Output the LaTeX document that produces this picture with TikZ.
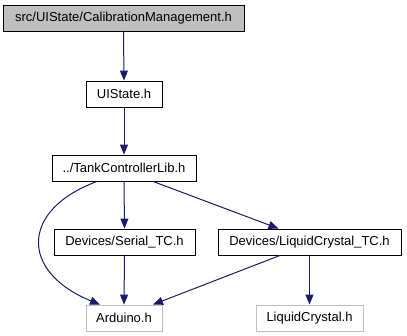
\documentclass[tikz,border=0pt]{standalone}
\usepackage{fontspec}
\setmainfont{Liberation Sans}
\usetikzlibrary{arrows.meta}
\definecolor{edgeblue}{HTML}{191970}
\definecolor{boxgray}{HTML}{BFBFBF}
\begin{document}
\begin{tikzpicture}[x=1pt,y=-1pt,
  filebox/.style={draw=black,line width=0.9pt,rectangle,inner sep=0pt,
    minimum height=26pt,font=\fontsize{13}{15}\selectfont},
  rootbox/.style={filebox,fill=boxgray},
  extbox/.style={filebox,draw=boxgray},
  dep/.style={draw=edgeblue,line width=1pt,
    -{Triangle[length=10pt,width=8pt]},fill=none}]
\useasboundingbox (0,0) rectangle (407,336);
\fill[white] (0,0) rectangle (407,336);

\node[rootbox,minimum width=241pt] (root) at (123.5,18) {src/UIState/CalibrationManagement.h};
\node[filebox,minimum width=76pt] (ui) at (124,94) {UIState.h};
\node[filebox,minimum width=144pt] (tank) at (124,168) {../TankControllerLib.h};
\node[filebox,minimum width=141pt] (serial) at (124.5,242) {Devices/Serial\_TC.h};
\node[filebox,minimum width=183pt] (lctc) at (309.5,242) {Devices/LiquidCrystal\_TC.h};
\node[extbox,minimum width=76pt] (ard) at (124,318) {Arduino.h};
\node[extbox,minimum width=107pt] (lc) at (309.5,318) {LiquidCrystal.h};

\draw[dep] (root.south) -- (ui.north);
\draw[dep] (ui.south) -- (tank.north);
\draw[dep] ([xshift=-27pt]tank.south) .. controls (20,210) and (20,272) .. ([xshift=-24pt]ard.north);
\draw[dep] (tank.south) -- (serial.north);
\draw[dep] ([xshift=29pt]tank.south) -- ([xshift=-31pt]lctc.north);
\draw[dep] (serial.south) -- (ard.north);
\draw[dep] ([xshift=-29.5pt]lctc.south) -- ([xshift=29pt]ard.north);
\draw[dep] (lctc.south) -- (lc.north);
\end{tikzpicture}
\end{document}
